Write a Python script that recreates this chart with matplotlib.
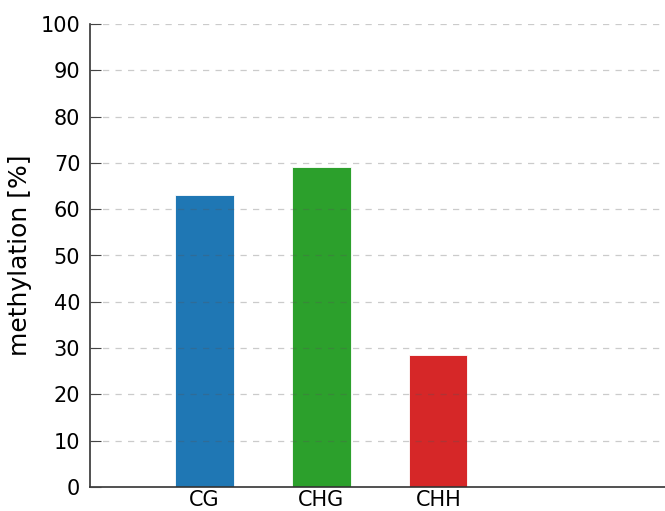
import matplotlib
matplotlib.use("Agg")
import matplotlib.pyplot as plt

contexts = ["CG", "CHG", "CHH"]
methylation = [63.1, 69.1, 28.6]
colors = ["#1f77b4", "#2ca02c", "#d62728"]
yticks = list(range(0, 101, 10))

fig = plt.figure(figsize=(6.65, 5.11), dpi=100)
ax = fig.add_axes([90 / 665, 24 / 511, 575 / 665, 463 / 511])

x = list(range(len(contexts)))
ax.bar(x, methylation, width=0.5, color=colors, edgecolor="white", linewidth=0.6, zorder=2)

ax.set_xlim(-0.98, 3.94)
ax.set_ylim(0, 100)
ax.set_yticks(yticks)
ax.set_xticks(x)
ax.set_xticklabels(contexts)
ax.tick_params(axis="y", direction="in", length=8, width=0.8, color="#444444", labelsize=15, pad=7)
ax.tick_params(axis="x", length=0, labelsize=15, pad=2)
ax.yaxis.grid(True, linestyle=(0, (5, 5)), color="#555555", alpha=0.3, linewidth=0.9, zorder=3)
ax.set_axisbelow(False)
for s in ("top", "right"):
    ax.spines[s].set_visible(False)
for s in ("left", "bottom"):
    ax.spines[s].set_color("#333333")
    ax.spines[s].set_linewidth(1.2)
ax.set_ylabel("methylation [%]", fontsize=18, labelpad=6)

fig.savefig("out.png", dpi=100)
